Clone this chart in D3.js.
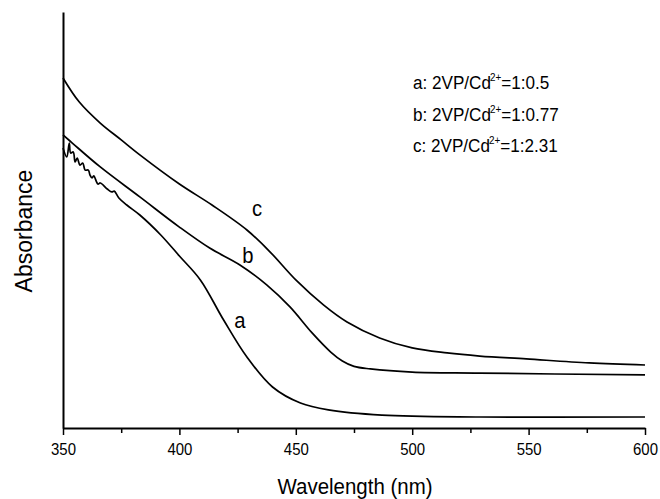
<!DOCTYPE html>
<html><head><meta charset="utf-8">
<script src="https://cdn.jsdelivr.net/npm/d3@7/dist/d3.min.js"></script>
<style>
body{margin:0;background:#fff;}
svg{display:block;}
text{font-family:"Liberation Sans",Arial,Helvetica,sans-serif;fill:#000;}
</style>
</head><body>
<svg id="chart" width="660" height="499"></svg>
<script>
// ---- data (absorbance in arbitrary units) ----
const wavelengthA = [350,351.6,352.7,353.3,354.4,355.2,356.1,357.3,358.5,359.5,360.9,361.6,362.5,363.2,365,366,369,371,372,374,377.4,383,392,400,409,419,429,440,452,464,487,529,600];
const absorbanceA = [1.346,1.303,1.370,1.322,1.327,1.279,1.298,1.264,1.274,1.240,1.240,1.216,1.202,1.212,1.173,1.178,1.149,1.135,1.139,1.106,1.072,1.024,0.928,0.827,0.712,0.519,0.341,0.197,0.120,0.087,0.062,0.053,0.053];

const wavelengthB = [350,354,366,383,400,413,426,437.5,447.5,457,465,470,475,482,500,529,600];
const absorbanceB = [1.409,1.370,1.255,1.111,0.966,0.865,0.784,0.688,0.582,0.457,0.365,0.322,0.296,0.284,0.269,0.264,0.255];

const wavelengthC = [350,357,366,375,383,400,414,429,439,450,462,472,486,500,515,529,549,576,600];
const absorbanceC = [1.683,1.567,1.466,1.385,1.313,1.173,1.072,0.952,0.846,0.712,0.591,0.510,0.433,0.385,0.361,0.346,0.332,0.313,0.303];

const seriesNames = ["a","b","c"];
const legendPrefix = ["a: 2VP/Cd","b: 2VP/Cd","c: 2VP/Cd"];
const legendSup = "2+";
const legendRatio = ["=1:0.5","=1:0.77","=1:2.31"];
const majorTicks = [350,400,450,500,550,600];
const minorTicks = [375,425,475,525,575];
const xTitle = "Wavelength (nm)";
const yTitle = "Absorbance";

// ---- chart ----
const svg = d3.select("#chart");
const x = d3.scaleLinear().domain([350,600]).range([63,645]);
const y = d3.scaleLinear().domain([0,2]).range([428,12]);

const series = [
  wavelengthA.map((w,i)=>[w,absorbanceA[i]]),
  wavelengthB.map((w,i)=>[w,absorbanceB[i]]),
  wavelengthC.map((w,i)=>[w,absorbanceC[i]])
];

const line = d3.line().x(d=>x(d[0])).y(d=>y(d[1])).curve(d3.curveCatmullRom.alpha(0.5));
svg.append("g").selectAll("path").data(series).join("path")
  .attr("d", line).attr("fill","none").attr("stroke","#000")
  .attr("stroke-width",1.7).attr("stroke-linejoin","round");

// x axis
const xAxis = d3.axisBottom(x).tickValues(majorTicks).tickSize(7).tickSizeOuter(0).tickFormat(d3.format("d"));
const gx = svg.append("g").attr("transform",`translate(0,${y(0)})`).call(xAxis);
gx.select(".domain").attr("stroke","#000").attr("stroke-width",2);
gx.selectAll(".tick line").attr("stroke","#000").attr("stroke-width",1.5);
gx.selectAll(".tick text")
  .attr("font-size",17).attr("x",0).attr("y",0).attr("dy",null)
  .attr("font-family","'Liberation Sans',Arial,sans-serif")
  .attr("transform","translate(0,27) scale(0.88,1)");
const gxm = svg.append("g").attr("transform",`translate(0,${y(0)})`)
  .call(d3.axisBottom(x).tickValues(minorTicks).tickSize(5).tickSizeOuter(0).tickFormat(""));
gxm.select(".domain").remove();
gxm.selectAll(".tick line").attr("stroke","#000").attr("stroke-width",1.5);

// y axis (no ticks)
const gy = svg.append("g").attr("transform",`translate(${x(350)},0)`)
  .call(d3.axisLeft(y).tickValues([]).tickSizeOuter(0));
gy.select(".domain").attr("stroke","#000").attr("stroke-width",2);

// titles
svg.append("text").attr("transform","translate(355,494) scale(0.93,1)")
  .attr("text-anchor","middle").attr("font-size",22).text(xTitle);
svg.append("text").attr("transform","translate(32,231) rotate(-90)")
  .attr("text-anchor","middle").attr("font-size",23).text(yTitle);

// curve labels
const labelPos = [[240,328],[248,263],[257,216]];
svg.append("g").selectAll("text").data(seriesNames).join("text")
  .attr("transform",(d,i)=>`translate(${labelPos[i][0]},${labelPos[i][1]}) scale(0.92,1)`)
  .attr("text-anchor","middle").attr("font-size",22).text(d=>d);

// legend
const lg = svg.append("g");
legendPrefix.forEach((p,i)=>{
  const t = lg.append("text").attr("transform",`translate(413,${89+i*31.5}) scale(0.9,1)`).attr("font-size",19);
  t.append("tspan").text(p);
  t.append("tspan").attr("font-size",11).attr("dx",-1).attr("dy",-8).text(legendSup);
  t.append("tspan").attr("dy",8).text(legendRatio[i]);
});
</script>
</body></html>
